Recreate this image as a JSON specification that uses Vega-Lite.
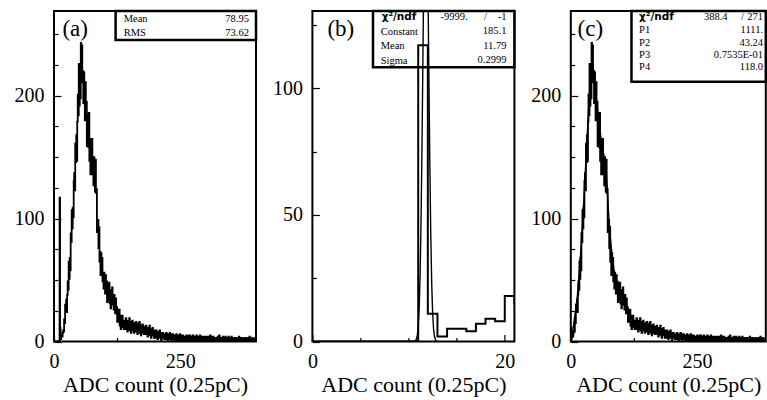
{
"$schema": "https://vega.github.io/schema/vega-lite/v6.json",
"background": "white",
"padding": {"left": 13, "top": 8, "right": 0, "bottom": 0},
"autosize": {"type": "pad"},
"spacing": 56.4,
"bounds": "flush",
"config": {
  "view": {"stroke": "black", "strokeWidth": 2},
  "axis": {"labelFont": "Liberation Serif", "labelFontSize": 20, "labelColor": "black", "titleFont": "Liberation Serif", "titleFontSize": 22, "titleFontWeight": "normal", "titleColor": "black", "tickColor": "black", "grid": false, "domain": false, "labelFlush": false, "labelOverlap": false, "labelBound": false},
  "text": {"font": "Liberation Serif", "color": "black"}
},
"datasets": {
"raw": [
{"a":0,"c":-12,"n":0},{"a":1,"c":-11,"n":0},{"a":2,"c":-10,"n":0},{"a":3,"c":-9,"n":0},{"a":4,"c":-8,"n":0},{"a":5,"c":-7,"n":0},{"a":6,"c":-6,"n":0},{"a":7,"c":-5,"n":0},{"a":8,"c":-4,"n":0},{"a":9,"c":-3,"n":0},{"a":10,"c":-2,"n":0},
{"a":11,"c":-1,"n":117},{"a":12,"c":0,"n":11},{"a":13,"c":1,"n":2},{"a":14,"c":2,"n":5},{"a":15,"c":3,"n":5},{"a":16,"c":4,"n":4},{"a":17,"c":5,"n":7},{"a":18,"c":6,"n":9},{"a":19,"c":7,"n":8},{"a":20,"c":8,"n":18},
{"a":21,"c":9,"n":15},{"a":22,"c":10,"n":30},{"a":23,"c":11,"n":24},{"a":24,"c":12,"n":34},{"a":25,"c":13,"n":24},{"a":26,"c":14,"n":38},{"a":27,"c":15,"n":49},{"a":28,"c":16,"n":42},{"a":29,"c":17,"n":65},{"a":30,"c":18,"n":51},
{"a":31,"c":19,"n":68},{"a":32,"c":20,"n":58},{"a":33,"c":21,"n":88},{"a":34,"c":22,"n":81},{"a":35,"c":23,"n":107},{"a":36,"c":24,"n":92},{"a":37,"c":25,"n":109},{"a":38,"c":26,"n":101},{"a":39,"c":27,"n":131},{"a":40,"c":28,"n":137},
{"a":41,"c":29,"n":123},{"a":42,"c":30,"n":161},{"a":43,"c":31,"n":146},{"a":44,"c":32,"n":168},{"a":45,"c":33,"n":147},{"a":46,"c":34,"n":179},{"a":47,"c":35,"n":201},{"a":48,"c":36,"n":184},{"a":49,"c":37,"n":226},{"a":50,"c":38,"n":192},
{"a":51,"c":39,"n":221},{"a":52,"c":40,"n":198},{"a":53,"c":41,"n":243},{"a":54,"c":42,"n":222},{"a":55,"c":43,"n":241},{"a":56,"c":44,"n":211},{"a":57,"c":45,"n":220},{"a":58,"c":46,"n":194},{"a":59,"c":47,"n":219},{"a":60,"c":48,"n":211},
{"a":61,"c":49,"n":180},{"a":62,"c":50,"n":211},{"a":63,"c":51,"n":183},{"a":64,"c":52,"n":195},{"a":65,"c":53,"n":159},{"a":66,"c":54,"n":178},{"a":67,"c":55,"n":185},{"a":68,"c":56,"n":158},{"a":69,"c":57,"n":186},{"a":70,"c":58,"n":147},
{"a":71,"c":59,"n":163},{"a":72,"c":60,"n":136},{"a":73,"c":61,"n":165},{"a":74,"c":62,"n":145},{"a":75,"c":63,"n":165},{"a":76,"c":64,"n":136},{"a":77,"c":65,"n":146},{"a":78,"c":66,"n":127},{"a":79,"c":67,"n":150},{"a":80,"c":68,"n":146},
{"a":81,"c":69,"n":122},{"a":82,"c":70,"n":148},{"a":83,"c":71,"n":121},{"a":84,"c":72,"n":124},{"a":85,"c":73,"n":89},{"a":86,"c":74,"n":98},{"a":87,"c":75,"n":99},{"a":88,"c":76,"n":76},{"a":89,"c":77,"n":93},{"a":90,"c":78,"n":65},
{"a":91,"c":79,"n":73},{"a":92,"c":80,"n":54},{"a":93,"c":81,"n":72},{"a":94,"c":82,"n":57},{"a":95,"c":83,"n":68},{"a":96,"c":84,"n":49},{"a":97,"c":85,"n":55},{"a":98,"c":86,"n":43},{"a":99,"c":87,"n":56},{"a":100,"c":88,"n":52},
{"a":101,"c":89,"n":39},{"a":102,"c":90,"n":54},{"a":103,"c":91,"n":42},{"a":104,"c":92,"n":49},{"a":105,"c":93,"n":32},{"a":106,"c":94,"n":42},{"a":107,"c":95,"n":47},{"a":108,"c":96,"n":34},{"a":109,"c":97,"n":48},{"a":110,"c":98,"n":31},
{"a":111,"c":99,"n":39},{"a":112,"c":100,"n":27},{"a":113,"c":101,"n":42},{"a":114,"c":102,"n":33},{"a":115,"c":103,"n":44},{"a":116,"c":104,"n":30},{"a":117,"c":105,"n":36},{"a":118,"c":106,"n":26},{"a":119,"c":107,"n":38},{"a":120,"c":108,"n":35},
{"a":121,"c":109,"n":23},{"a":122,"c":110,"n":35},{"a":123,"c":111,"n":24},{"a":124,"c":112,"n":28},{"a":125,"c":113,"n":16},{"a":126,"c":114,"n":23},{"a":127,"c":115,"n":26},{"a":128,"c":116,"n":16},{"a":129,"c":117,"n":26},{"a":130,"c":118,"n":13},
{"a":131,"c":119,"n":20},{"a":132,"c":120,"n":10},{"a":133,"c":121,"n":21},{"a":134,"c":122,"n":14},{"a":135,"c":123,"n":21},{"a":136,"c":124,"n":12},{"a":137,"c":125,"n":15},{"a":138,"c":126,"n":10},{"a":139,"c":127,"n":17},{"a":140,"c":128,"n":16},
{"a":141,"c":129,"n":10},{"a":142,"c":130,"n":19},{"a":143,"c":131,"n":13},{"a":144,"c":132,"n":17},{"a":145,"c":133,"n":8},{"a":146,"c":134,"n":14},{"a":147,"c":135,"n":17},{"a":148,"c":136,"n":10},{"a":149,"c":137,"n":19},{"a":150,"c":138,"n":9},
{"a":151,"c":139,"n":14},{"a":152,"c":140,"n":7},{"a":153,"c":141,"n":16},{"a":154,"c":142,"n":11},{"a":155,"c":143,"n":17},{"a":156,"c":144,"n":9},{"a":157,"c":145,"n":12},{"a":158,"c":146,"n":7},{"a":159,"c":147,"n":15},{"a":160,"c":148,"n":14},
{"a":161,"c":149,"n":8},{"a":162,"c":150,"n":16},{"a":163,"c":151,"n":11},{"a":164,"c":152,"n":14},{"a":165,"c":153,"n":6},{"a":166,"c":154,"n":12},{"a":167,"c":155,"n":15},{"a":168,"c":156,"n":8},{"a":169,"c":157,"n":16},{"a":170,"c":158,"n":7},
{"a":171,"c":159,"n":12},{"a":172,"c":160,"n":5},{"a":173,"c":161,"n":13},{"a":174,"c":162,"n":8},{"a":175,"c":163,"n":14},{"a":176,"c":164,"n":7},{"a":177,"c":165,"n":10},{"a":178,"c":166,"n":6},{"a":179,"c":167,"n":12},{"a":180,"c":168,"n":11},
{"a":181,"c":169,"n":6},{"a":182,"c":170,"n":13},{"a":183,"c":171,"n":8},{"a":184,"c":172,"n":11},{"a":185,"c":173,"n":4},{"a":186,"c":174,"n":9},{"a":187,"c":175,"n":11},{"a":188,"c":176,"n":6},{"a":189,"c":177,"n":13},{"a":190,"c":178,"n":5},
{"a":191,"c":179,"n":9},{"a":192,"c":180,"n":3},{"a":193,"c":181,"n":10},{"a":194,"c":182,"n":6},{"a":195,"c":183,"n":11},{"a":196,"c":184,"n":5},{"a":197,"c":185,"n":7},{"a":198,"c":186,"n":3},{"a":199,"c":187,"n":9},{"a":200,"c":188,"n":8},
{"a":201,"c":189,"n":3},{"a":202,"c":190,"n":9},{"a":203,"c":191,"n":5},{"a":204,"c":192,"n":8},{"a":205,"c":193,"n":2},{"a":206,"c":194,"n":6},{"a":207,"c":195,"n":8},{"a":208,"c":196,"n":4},{"a":209,"c":197,"n":9},{"a":210,"c":198,"n":3},
{"a":211,"c":199,"n":6},{"a":212,"c":200,"n":1},{"a":213,"c":201,"n":7},{"a":214,"c":202,"n":4},{"a":215,"c":203,"n":7},{"a":216,"c":204,"n":3},{"a":217,"c":205,"n":5},{"a":218,"c":206,"n":2},{"a":219,"c":207,"n":6},{"a":220,"c":208,"n":6},
{"a":221,"c":209,"n":2},{"a":222,"c":210,"n":7},{"a":223,"c":211,"n":4},{"a":224,"c":212,"n":6},{"a":225,"c":213,"n":1},{"a":226,"c":214,"n":5},{"a":227,"c":215,"n":6},{"a":228,"c":216,"n":2},{"a":229,"c":217,"n":7},{"a":230,"c":218,"n":2},
{"a":231,"c":219,"n":5},{"a":232,"c":220,"n":1},{"a":233,"c":221,"n":6},{"a":234,"c":222,"n":3},{"a":235,"c":223,"n":6},{"a":236,"c":224,"n":2},{"a":237,"c":225,"n":4},{"a":238,"c":226,"n":1},{"a":239,"c":227,"n":5},{"a":240,"c":228,"n":5},
{"a":241,"c":229,"n":1},{"a":242,"c":230,"n":6},{"a":243,"c":231,"n":3},{"a":244,"c":232,"n":5},{"a":245,"c":233,"n":0},{"a":246,"c":234,"n":3},{"a":247,"c":235,"n":5},{"a":248,"c":236,"n":2},{"a":249,"c":237,"n":6},{"a":250,"c":238,"n":1},
{"a":251,"c":239,"n":4},{"a":252,"c":240,"n":0},{"a":253,"c":241,"n":5},{"a":254,"c":242,"n":2},{"a":255,"c":243,"n":5},{"a":256,"c":244,"n":1},{"a":257,"c":245,"n":3},{"a":258,"c":246,"n":1},{"a":259,"c":247,"n":4},{"a":260,"c":248,"n":4},
{"a":261,"c":249,"n":1},{"a":262,"c":250,"n":5},{"a":263,"c":251,"n":2},{"a":264,"c":252,"n":4},{"a":265,"c":253,"n":0},{"a":266,"c":254,"n":3},{"a":267,"c":255,"n":5},{"a":268,"c":256,"n":1},{"a":269,"c":257,"n":5},{"a":270,"c":258,"n":1},
{"a":271,"c":259,"n":3},{"a":272,"c":260,"n":0},{"a":273,"c":261,"n":4},{"a":274,"c":262,"n":2},{"a":275,"c":263,"n":5},{"a":276,"c":264,"n":1},{"a":277,"c":265,"n":3},{"a":278,"c":266,"n":0},{"a":279,"c":267,"n":4},{"a":280,"c":268,"n":3},
{"a":281,"c":269,"n":1},{"a":282,"c":270,"n":5},{"a":283,"c":271,"n":2},{"a":284,"c":272,"n":4},{"a":285,"c":273,"n":0},{"a":286,"c":274,"n":3},{"a":287,"c":275,"n":4},{"a":288,"c":276,"n":1},{"a":289,"c":277,"n":5},{"a":290,"c":278,"n":1},
{"a":291,"c":279,"n":3},{"a":292,"c":280,"n":0},{"a":293,"c":281,"n":4},{"a":294,"c":282,"n":2},{"a":295,"c":283,"n":4},{"a":296,"c":284,"n":1},{"a":297,"c":285,"n":3},{"a":298,"c":286,"n":0},{"a":299,"c":287,"n":4},{"a":300,"c":288,"n":3},
{"a":301,"c":289,"n":1},{"a":302,"c":290,"n":4},{"a":303,"c":291,"n":2},{"a":304,"c":292,"n":4},{"a":305,"c":293,"n":0},{"a":306,"c":294,"n":3},{"a":307,"c":295,"n":4},{"a":308,"c":296,"n":1},{"a":309,"c":297,"n":5},{"a":310,"c":298,"n":1},
{"a":311,"c":299,"n":3},{"a":312,"c":300,"n":0},{"a":313,"c":301,"n":4},{"a":314,"c":302,"n":2},{"a":315,"c":303,"n":4},{"a":316,"c":304,"n":1},{"a":317,"c":305,"n":2},{"a":318,"c":306,"n":0},{"a":319,"c":307,"n":3},{"a":320,"c":308,"n":3},
{"a":321,"c":309,"n":2},{"a":322,"c":310,"n":3},{"a":323,"c":311,"n":0},{"a":324,"c":312,"n":4},{"a":325,"c":313,"n":1},{"a":326,"c":314,"n":2},{"a":327,"c":315,"n":5},{"a":328,"c":316,"n":1},{"a":329,"c":317,"n":3},{"a":330,"c":318,"n":2},
{"a":331,"c":319,"n":0},{"a":332,"c":320,"n":3},{"a":333,"c":321,"n":2},{"a":334,"c":322,"n":4},{"a":335,"c":323,"n":1},{"a":336,"c":324,"n":1},{"a":337,"c":325,"n":3},{"a":338,"c":326,"n":0},{"a":339,"c":327,"n":4},{"a":340,"c":328,"n":2},
{"a":341,"c":329,"n":1},{"a":342,"c":330,"n":3},{"a":343,"c":331,"n":2},{"a":344,"c":332,"n":0},{"a":345,"c":333,"n":4},{"a":346,"c":334,"n":2},{"a":347,"c":335,"n":1},{"a":348,"c":336,"n":3},{"a":349,"c":337,"n":1},{"a":350,"c":338,"n":2},
{"a":351,"c":339,"n":4},{"a":352,"c":340,"n":0},{"a":353,"c":341,"n":2},{"a":354,"c":342,"n":3},{"a":355,"c":343,"n":1},{"a":356,"c":344,"n":2},{"a":357,"c":345,"n":0},{"a":358,"c":346,"n":3},{"a":359,"c":347,"n":2},{"a":360,"c":348,"n":1},
{"a":361,"c":349,"n":3},{"a":362,"c":350,"n":1},{"a":363,"c":351,"n":2},{"a":364,"c":352,"n":0},{"a":365,"c":353,"n":2},{"a":366,"c":354,"n":4},{"a":367,"c":355,"n":1},{"a":368,"c":356,"n":2},{"a":369,"c":357,"n":1},{"a":370,"c":358,"n":3},
{"a":371,"c":359,"n":0},{"a":372,"c":360,"n":2},{"a":373,"c":361,"n":3},{"a":374,"c":362,"n":1},{"a":375,"c":363,"n":2},{"a":376,"c":364,"n":0},{"a":377,"c":365,"n":2},{"a":378,"c":366,"n":3},{"a":379,"c":367,"n":1},{"a":380,"c":368,"n":2},
{"a":381,"c":369,"n":2},{"a":382,"c":370,"n":0},{"a":383,"c":371,"n":3},{"a":384,"c":372,"n":1},{"a":385,"c":373,"n":2},{"a":386,"c":374,"n":1},{"a":387,"c":375,"n":4},{"a":388,"c":376,"n":1},{"a":389,"c":377,"n":0},{"a":390,"c":378,"n":2},
{"a":391,"c":379,"n":1},{"a":392,"c":380,"n":3},{"a":393,"c":381,"n":1},{"a":394,"c":382,"n":2},{"a":395,"c":383,"n":0},{"a":396,"c":384,"n":2},{"a":397,"c":385,"n":1},{"a":398,"c":386,"n":3},{"a":399,"c":387,"n":1},{"a":400,"c":388,"n":1}
],
"gaus": [
{"x":10.5,"g":0.01},{"x":10.6,"g":0.07},{"x":10.7,"g":0.25},{"x":10.8,"g":0.8},{"x":10.9,"g":2.26},{"x":11.0,"g":5.76},{"x":11.1,"g":13.12},{"x":11.2,"g":26.73},{"x":11.3,"g":48.72},{"x":11.4,"g":79.46},{"x":11.5,"g":115.98},{"x":11.6,"g":151.4},{"x":11.7,"g":176.95},{"x":11.79,"g":185.1},{"x":11.9,"g":173.05},{"x":12.0,"g":144.86},{"x":12.1,"g":108.49},{"x":12.2,"g":72.71},{"x":12.3,"g":43.59},{"x":12.4,"g":23.4},{"x":12.5,"g":11.23},{"x":12.6,"g":4.83},{"x":12.7,"g":1.85},{"x":12.8,"g":0.64},{"x":12.9,"g":0.2},{"x":13.0,"g":0.05},{"x":13.1,"g":0.01}
],
"fit": [
{"c":0,"f":0},{"c":2,"f":4},{"c":4,"f":9},{"c":6,"f":15},{"c":8,"f":21},{"c":10,"f":27},{"c":12,"f":33},{"c":14,"f":42},{"c":16,"f":52},{"c":18,"f":63},{"c":20,"f":75},{"c":22,"f":88},{"c":24,"f":102},{"c":26,"f":117},{"c":28,"f":132},{"c":30,"f":148},{"c":32,"f":163},{"c":34,"f":180},{"c":36,"f":196},{"c":38,"f":210},{"c":40,"f":221},{"c":42,"f":227},{"c":44,"f":225},{"c":46,"f":217},{"c":48,"f":208},{"c":50,"f":199},{"c":52,"f":192},{"c":54,"f":185},{"c":56,"f":178},{"c":58,"f":171},{"c":60,"f":165},{"c":62,"f":160},{"c":64,"f":155},{"c":66,"f":150},{"c":68,"f":145},{"c":70,"f":138},{"c":72,"f":125},{"c":74,"f":110},{"c":76,"f":97},{"c":78,"f":86},{"c":80,"f":77},{"c":82,"f":69},{"c":84,"f":63},{"c":86,"f":57},{"c":88,"f":53},{"c":90,"f":49},{"c":94,"f":44},{"c":98,"f":40},{"c":102,"f":37},{"c":106,"f":34},{"c":110,"f":30},{"c":114,"f":25},{"c":118,"f":21},{"c":122,"f":18},{"c":126,"f":16},{"c":130,"f":14.5},{"c":140,"f":12},{"c":150,"f":10},{"c":160,"f":8.5},{"c":170,"f":7},{"c":180,"f":5.8},{"c":190,"f":4.8},{"c":200,"f":4},{"c":220,"f":3},{"c":250,"f":2.3},{"c":300,"f":1.8},{"c":350,"f":1.5},{"c":386,"f":1.3}
]
},
"hconcat": [
{
 "width": 202, "height": 330.5,
 "resolve": {"axis": {"x": "independent", "y": "independent"}},
 "layer": [
  {"data": {"values": [{}]},
   "mark": {"type": "rect", "fill": "white", "stroke": "black", "strokeWidth": 2.5},
   "encoding": {
     "x": {"datum": 122, "type": "quantitative", "scale": {"domain": [0, 400], "nice": false, "zero": false},
           "axis": {"orient": "bottom", "values": [125, 375], "labels": false, "tickSize": -4, "tickWidth": 1.2, "title": null}},
     "x2": {"datum": 400},
     "y": {"datum": 269, "type": "quantitative", "scale": {"domain": [0, 269], "nice": false, "zero": false},
           "axis": {"orient": "left", "values": [25, 50, 75, 125, 150, 175, 225, 250], "labels": false, "tickSize": -4, "tickWidth": 1.2, "title": null}},
     "y2": {"datum": 245.4}
   }},
  {"data": {"name": "raw"},
   "mark": {"type": "line", "interpolate": "step-after", "color": "black", "strokeWidth": 1.8, "clip": true},
   "encoding": {
     "x": {"field": "a", "type": "quantitative", "scale": {"domain": [0, 400], "nice": false, "zero": false},
           "axis": {"orient": "bottom", "values": [0, 250], "ticks": false, "labelPadding": 10, "title": "ADC count (0.25pC)", "titlePadding": 3}},
     "y": {"field": "n", "type": "quantitative", "scale": {"domain": [0, 269], "nice": false, "zero": false},
           "axis": {"orient": "left", "values": [0, 100, 200], "ticks": false, "labelPadding": 10, "title": null}}
   }},
  {"data": {"values": [{}]},
   "mark": {"type": "text", "text": "(a)", "fontSize": 23, "align": "left", "baseline": "alphabetic"},
   "encoding": {
     "x": {"datum": 16.6, "type": "quantitative", "scale": {"domain": [0, 400], "nice": false, "zero": false},
           "axis": {"orient": "bottom", "values": [0, 250], "labels": false, "tickSize": -7, "tickWidth": 1.2, "title": null}},
     "y": {"datum": 249, "type": "quantitative", "scale": {"domain": [0, 269], "nice": false, "zero": false},
           "axis": {"orient": "left", "values": [0, 100, 200], "labels": false, "tickSize": -7, "tickWidth": 1.2, "title": null}}
   }},
  {"data": {"values": [{}]},
   "mark": {"type": "text", "text": ["Mean", "RMS"], "fontSize": 10.5, "lineHeight": 14.3, "align": "left", "baseline": "alphabetic"},
   "encoding": {
     "x": {"datum": 138, "type": "quantitative", "scale": {"domain": [0, 400], "nice": false, "zero": false}, "axis": null},
     "y": {"datum": 260.3, "type": "quantitative", "scale": {"domain": [0, 269], "nice": false, "zero": false}, "axis": null}
   }},
  {"data": {"values": [{}]},
   "mark": {"type": "text", "text": ["78.95", "73.62"], "fontSize": 10.5, "lineHeight": 14.3, "align": "right", "baseline": "alphabetic"},
   "encoding": {
     "x": {"datum": 386, "type": "quantitative", "scale": {"domain": [0, 400], "nice": false, "zero": false}, "axis": null},
     "y": {"datum": 260.3, "type": "quantitative", "scale": {"domain": [0, 269], "nice": false, "zero": false}, "axis": null}
   }}
 ]
},
{
 "width": 202, "height": 330.5,
 "resolve": {"axis": {"x": "independent", "y": "independent"}},
 "layer": [
  {"data": {"values": [{}]},
   "mark": {"type": "rect", "fill": "white", "stroke": "black", "strokeWidth": 2.5},
   "encoding": {
     "x": {"datum": 6.3, "type": "quantitative", "scale": {"domain": [0, 21], "nice": false, "zero": false},
           "axis": {"orient": "bottom", "values": [5, 10, 15], "labels": false, "tickSize": -4, "tickWidth": 1.2, "title": null}},
     "x2": {"datum": 21},
     "y": {"datum": 130.5, "type": "quantitative", "scale": {"domain": [0, 130.5], "nice": false, "zero": false},
           "axis": {"orient": "left", "values": [25, 75, 125], "labels": false, "tickSize": -4, "tickWidth": 1.2, "title": null}},
     "y2": {"datum": 108.3}
   }},
  {"data": {"name": "raw"},
   "transform": [{"filter": "datum.a <= 22"}],
   "mark": {"type": "line", "interpolate": "step-after", "color": "black", "strokeWidth": 2, "clip": true},
   "encoding": {
     "x": {"field": "a", "type": "quantitative", "scale": {"domain": [0, 21], "nice": false, "zero": false},
           "axis": {"orient": "bottom", "values": [0, 20], "ticks": false, "labelPadding": 10, "title": "ADC count (0.25pC)", "titlePadding": 3}},
     "y": {"field": "n", "type": "quantitative", "scale": {"domain": [0, 130.5], "nice": false, "zero": false},
           "axis": {"orient": "left", "values": [0, 50, 100], "ticks": false, "labelPadding": 10, "title": null}}
   }},
  {"data": {"name": "gaus"},
   "mark": {"type": "line", "color": "black", "strokeWidth": 1.4, "clip": true},
   "encoding": {
     "x": {"field": "x", "type": "quantitative", "scale": {"domain": [0, 21], "nice": false, "zero": false},
           "axis": {"orient": "bottom", "values": [0, 20], "labels": false, "tickSize": -7, "tickWidth": 1.2, "title": null}},
     "y": {"field": "g", "type": "quantitative", "scale": {"domain": [0, 130.5], "nice": false, "zero": false},
           "axis": {"orient": "left", "values": [0, 50, 100], "labels": false, "tickSize": -7, "tickWidth": 1.2, "title": null}}
   }},
  {"data": {"values": [{}]},
   "mark": {"type": "text", "text": "(b)", "fontSize": 23, "align": "left", "baseline": "alphabetic"},
   "encoding": {
     "x": {"datum": 1.56, "type": "quantitative", "scale": {"domain": [0, 21], "nice": false, "zero": false}, "axis": null},
     "y": {"datum": 120.8, "type": "quantitative", "scale": {"domain": [0, 130.5], "nice": false, "zero": false}, "axis": null}
   }},
  {"data": {"values": [{}]},
   "mark": {"type": "text", "text": "χ²/ndf", "font": "DejaVu Sans", "fontWeight": "bold", "fontSize": 10.5, "align": "left", "baseline": "alphabetic"},
   "encoding": {
     "x": {"datum": 7.2, "type": "quantitative", "scale": {"domain": [0, 21], "nice": false, "zero": false}, "axis": null},
     "y": {"datum": 127.0, "type": "quantitative", "scale": {"domain": [0, 130.5], "nice": false, "zero": false}, "axis": null}
   }},
  {"data": {"values": [{}]},
   "mark": {"type": "text", "text": ["Constant", "Mean", "Sigma"], "fontSize": 10.5, "lineHeight": 14.5, "align": "left", "baseline": "alphabetic"},
   "encoding": {
     "x": {"datum": 7.1, "type": "quantitative", "scale": {"domain": [0, 21], "nice": false, "zero": false}, "axis": null},
     "y": {"datum": 121.1, "type": "quantitative", "scale": {"domain": [0, 130.5], "nice": false, "zero": false}, "axis": null}
   }},
  {"data": {"values": [{}]},
   "mark": {"type": "text", "text": "-9999.", "fontSize": 10.5, "align": "right", "baseline": "alphabetic"},
   "encoding": {
     "x": {"datum": 16.15, "type": "quantitative", "scale": {"domain": [0, 21], "nice": false, "zero": false}, "axis": null},
     "y": {"datum": 127.0, "type": "quantitative", "scale": {"domain": [0, 130.5], "nice": false, "zero": false}, "axis": null}
   }},
  {"data": {"values": [{}]},
   "mark": {"type": "text", "text": "/", "fontSize": 10.5, "align": "center", "baseline": "alphabetic"},
   "encoding": {
     "x": {"datum": 18.0, "type": "quantitative", "scale": {"domain": [0, 21], "nice": false, "zero": false}, "axis": null},
     "y": {"datum": 127.0, "type": "quantitative", "scale": {"domain": [0, 130.5], "nice": false, "zero": false}, "axis": null}
   }},
  {"data": {"values": [{}]},
   "mark": {"type": "text", "text": ["-1", "185.1", "11.79", "0.2999"], "fontSize": 10.5, "lineHeight": 14.5, "align": "right", "baseline": "alphabetic"},
   "encoding": {
     "x": {"datum": 20.17, "type": "quantitative", "scale": {"domain": [0, 21], "nice": false, "zero": false}, "axis": null},
     "y": {"datum": 127.0, "type": "quantitative", "scale": {"domain": [0, 130.5], "nice": false, "zero": false}, "axis": null}
   }}
 ]
},
{
 "width": 195, "height": 330.5,
 "resolve": {"axis": {"x": "independent", "y": "independent"}},
 "layer": [
  {"data": {"values": [{}]},
   "mark": {"type": "rect", "fill": "white", "stroke": "black", "strokeWidth": 2.5},
   "encoding": {
     "x": {"datum": 120.1, "type": "quantitative", "scale": {"domain": [0, 386], "nice": false, "zero": false},
           "axis": {"orient": "bottom", "values": [125, 375], "labels": false, "tickSize": -4, "tickWidth": 1.2, "title": null}},
     "x2": {"datum": 386},
     "y": {"datum": 269, "type": "quantitative", "scale": {"domain": [0, 269], "nice": false, "zero": false},
           "axis": {"orient": "left", "values": [25, 50, 75, 125, 150, 175, 225, 250], "labels": false, "tickSize": -4, "tickWidth": 1.2, "title": null}},
     "y2": {"datum": 211.4}
   }},
  {"data": {"name": "raw"},
   "transform": [{"filter": "datum.c >= 0"}],
   "mark": {"type": "line", "interpolate": "step-after", "color": "black", "strokeWidth": 1.8, "clip": true},
   "encoding": {
     "x": {"field": "c", "type": "quantitative", "scale": {"domain": [0, 386], "nice": false, "zero": false},
           "axis": {"orient": "bottom", "values": [0, 250], "ticks": false, "labelPadding": 10, "title": "ADC count (0.25pC)", "titlePadding": 3}},
     "y": {"field": "n", "type": "quantitative", "scale": {"domain": [0, 269], "nice": false, "zero": false},
           "axis": {"orient": "left", "values": [0, 100, 200], "ticks": false, "labelPadding": 10, "title": null}}
   }},
  {"data": {"name": "fit"},
   "mark": {"type": "line", "color": "black", "strokeWidth": 1.4, "clip": true},
   "encoding": {
     "x": {"field": "c", "type": "quantitative", "scale": {"domain": [0, 386], "nice": false, "zero": false},
           "axis": {"orient": "bottom", "values": [0, 250], "labels": false, "tickSize": -7, "tickWidth": 1.2, "title": null}},
     "y": {"field": "f", "type": "quantitative", "scale": {"domain": [0, 269], "nice": false, "zero": false},
           "axis": {"orient": "left", "values": [0, 100, 200], "labels": false, "tickSize": -7, "tickWidth": 1.2, "title": null}}
   }},
  {"data": {"values": [{}]},
   "mark": {"type": "text", "text": "(c)", "fontSize": 23, "align": "left", "baseline": "alphabetic"},
   "encoding": {
     "x": {"datum": 13.3, "type": "quantitative", "scale": {"domain": [0, 386], "nice": false, "zero": false}, "axis": null},
     "y": {"datum": 249, "type": "quantitative", "scale": {"domain": [0, 269], "nice": false, "zero": false}, "axis": null}
   }},
  {"data": {"values": [{}]},
   "mark": {"type": "text", "text": "χ²/ndf", "font": "DejaVu Sans", "fontWeight": "bold", "fontSize": 10.5, "align": "left", "baseline": "alphabetic"},
   "encoding": {
     "x": {"datum": 135.2, "type": "quantitative", "scale": {"domain": [0, 386], "nice": false, "zero": false}, "axis": null},
     "y": {"datum": 261.7, "type": "quantitative", "scale": {"domain": [0, 269], "nice": false, "zero": false}, "axis": null}
   }},
  {"data": {"values": [{}]},
   "mark": {"type": "text", "text": ["P1", "P2", "P3", "P4"], "fontSize": 10.5, "lineHeight": 12.2, "align": "left", "baseline": "alphabetic"},
   "encoding": {
     "x": {"datum": 135.2, "type": "quantitative", "scale": {"domain": [0, 386], "nice": false, "zero": false}, "axis": null},
     "y": {"datum": 250.8, "type": "quantitative", "scale": {"domain": [0, 269], "nice": false, "zero": false}, "axis": null}
   }},
  {"data": {"values": [{}]},
   "mark": {"type": "text", "text": "388.4", "fontSize": 10.5, "align": "right", "baseline": "alphabetic"},
   "encoding": {
     "x": {"datum": 310.2, "type": "quantitative", "scale": {"domain": [0, 386], "nice": false, "zero": false}, "axis": null},
     "y": {"datum": 261.7, "type": "quantitative", "scale": {"domain": [0, 269], "nice": false, "zero": false}, "axis": null}
   }},
  {"data": {"values": [{}]},
   "mark": {"type": "text", "text": "/", "fontSize": 10.5, "align": "center", "baseline": "alphabetic"},
   "encoding": {
     "x": {"datum": 339.9, "type": "quantitative", "scale": {"domain": [0, 386], "nice": false, "zero": false}, "axis": null},
     "y": {"datum": 261.7, "type": "quantitative", "scale": {"domain": [0, 269], "nice": false, "zero": false}, "axis": null}
   }},
  {"data": {"values": [{}]},
   "mark": {"type": "text", "text": "271", "fontSize": 10.5, "align": "right", "baseline": "alphabetic"},
   "encoding": {
     "x": {"datum": 380.6, "type": "quantitative", "scale": {"domain": [0, 386], "nice": false, "zero": false}, "axis": null},
     "y": {"datum": 261.7, "type": "quantitative", "scale": {"domain": [0, 269], "nice": false, "zero": false}, "axis": null}
   }},
  {"data": {"values": [{}]},
   "mark": {"type": "text", "text": ["1111.", "43.24", "0.7535E-01", "118.0"], "fontSize": 10.5, "lineHeight": 12.2, "align": "right", "baseline": "alphabetic"},
   "encoding": {
     "x": {"datum": 380.6, "type": "quantitative", "scale": {"domain": [0, 386], "nice": false, "zero": false}, "axis": null},
     "y": {"datum": 250.8, "type": "quantitative", "scale": {"domain": [0, 269], "nice": false, "zero": false}, "axis": null}
   }}
 ]
}
]
}
